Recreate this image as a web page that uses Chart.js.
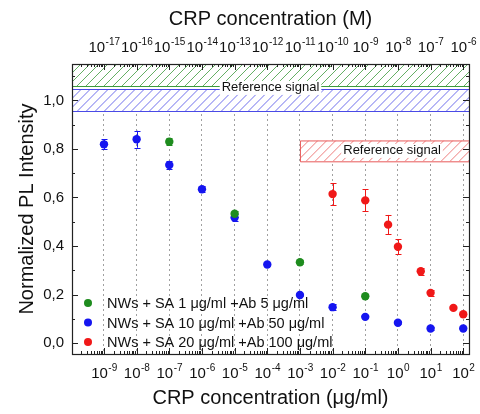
<!DOCTYPE html>
<html><head><meta charset="utf-8">
<script src="https://cdn.jsdelivr.net/npm/chart.js@4.4.1/dist/chart.umd.min.js"></script>
<style>html,body{margin:0;padding:0;background:#fff}#wrap{width:480px;height:414px;position:relative}</style>
</head><body><div id="wrap"><canvas id="c" width="480" height="414"></canvas></div>
<script>
// ---- data ----
const seriesNames = ['NWs + SA 1 μg/ml +Ab 5 μg/ml', 'NWs + SA 10 μg/ml +Ab 50 μg/ml', 'NWs + SA 20 μg/ml +Ab 100 μg/ml'];
const greenX = [1e-7, 1e-5, 1e-3, 1e-1];
const greenY = [0.83, 0.533, 0.333, 0.193];
const greenErr = [0.015, 0.012, 0.008, 0.008];
const blueX = [1e-9, 1e-8, 1e-7, 1e-6, 1e-5, 1e-4, 1e-3, 1e-2, 1e-1, 1, 10, 100];
const blueY = [0.819, 0.84, 0.734, 0.634, 0.517, 0.324, 0.198, 0.148, 0.108, 0.084, 0.06, 0.06];
const blueErr = [0.02, 0.035, 0.015, 0.012, 0.015, 0.006, 0.006, 0.012, 0.006, 0.005, 0.005, 0.005];
const redX = [1e-2, 1e-1, 0.5, 1, 5, 10, 50, 100];
const redY = [0.614, 0.588, 0.488, 0.397, 0.296, 0.207, 0.145, 0.119];
const redErr = [0.045, 0.045, 0.04, 0.03, 0.015, 0.012, 0.006, 0.006];
const bottomTicks = [1e-9, 1e-8, 1e-7, 1e-6, 1e-5, 1e-4, 1e-3, 1e-2, 1e-1, 1, 10, 100];
const topTicks = [1e-17, 1e-16, 1e-15, 1e-14, 1e-13, 1e-12, 1e-11, 1e-10, 1e-9, 1e-8, 1e-7, 1e-6];
const yTicks = [0, 0.2, 0.4, 0.6, 0.8, 1.0];
const refLabel = 'Reference signal';
// reference bands: x range (null = plot edge), y range (null = plot edge)
const bandX0 = [null, null, 1e-3];
const bandX1 = [null, null, null];
const bandY0 = [1.058, 0.955, 0.749];
const bandY1 = [null, 1.045, 0.835];

const xMin = 1.05e-10, xMax = 150, molarShift = 1e-8;
const yMin = -0.045, yMax = 1.15;

const colors = ['#1e8c1e', '#1515f0', '#f01818'];
const bandColors = ['#3c9a3c', '#4a4ae6', '#e85a5a'];
const FONT = "'Liberation Sans', Arial, sans-serif";
Chart.defaults.font.family = FONT;
Chart.defaults.color = '#111';

const xs = [greenX, blueX, redX], ys = [greenY, blueY, redY], es = [greenErr, blueErr, redErr];

function drawPow(ctx, cx, base, v) {
  const e = String(Math.round(Math.log10(v)));
  ctx.font = '15px ' + FONT;
  const w1 = ctx.measureText('10').width;
  ctx.font = '10px ' + FONT;
  const w2 = ctx.measureText(e).width;
  const x0 = cx - (w1 + w2) / 2;
  ctx.font = '15px ' + FONT;
  ctx.fillText('10', x0, base);
  ctx.font = '10px ' + FONT;
  ctx.fillText(e, x0 + w1 + 0.5, base - 7);
}

const decor = {
  id: 'decor',
  beforeDatasetsDraw(chart) {
    const {ctx, chartArea: a, scales: {x, y}} = chart;
    ctx.save();
    ctx.beginPath(); ctx.rect(a.left, a.top, a.right - a.left, a.bottom - a.top); ctx.clip();
    for (let i = 0; i < bandY0.length; i++) {
      const x0 = bandX0[i] == null ? a.left : x.getPixelForValue(bandX0[i]);
      const x1 = bandX1[i] == null ? a.right : x.getPixelForValue(bandX1[i]);
      const y0 = bandY1[i] == null ? a.top : y.getPixelForValue(bandY1[i]);
      const y1 = y.getPixelForValue(bandY0[i]);
      ctx.fillStyle = '#fff';
      ctx.fillRect(x0, y0, x1 - x0, y1 - y0);
      ctx.save();
      ctx.beginPath(); ctx.rect(x0, y0, x1 - x0, y1 - y0); ctx.clip();
      ctx.beginPath();
      ctx.strokeStyle = bandColors[i]; ctx.lineWidth = 0.8;
      const h = y1 - y0;
      for (let s = x0 - h; s < x1 + 2; s += 9) { ctx.moveTo(s, y1); ctx.lineTo(s + h, y0); }
      ctx.stroke();
      ctx.restore();
      ctx.strokeStyle = bandColors[i]; ctx.lineWidth = 1;
      ctx.beginPath();
      if (i === 2) { ctx.rect(x0 + 0.5, y0 + 0.5, x1 - x0, y1 - y0); }
      else {
        if (bandY1[i] != null) { ctx.moveTo(x0, Math.round(y0) + 0.5); ctx.lineTo(x1, Math.round(y0) + 0.5); }
        ctx.moveTo(x0, Math.round(y1) + 0.5); ctx.lineTo(x1, Math.round(y1) + 0.5);
      }
      ctx.stroke();
    }
    // labels
    ctx.font = '13px ' + FONT;
    ctx.textBaseline = 'middle'; ctx.textAlign = 'center';
    const w = ctx.measureText(refLabel).width;
    const ly1 = (y.getPixelForValue(bandY0[0]) + y.getPixelForValue(bandY1[1])) / 2;
    const lx1 = (a.left + a.right) / 2;
    ctx.fillStyle = '#fff'; ctx.fillRect(lx1 - w / 2 - 2, ly1 - 7, w + 4, 14);
    ctx.fillStyle = '#111'; ctx.fillText(refLabel, lx1, ly1);
    const ly2 = y.getPixelForValue((bandY0[2] + bandY1[2]) / 2);
    const lx2 = x.getPixelForValue(0.66);
    ctx.fillStyle = '#fff'; ctx.fillRect(lx2 - w / 2 - 2, ly2 - 7, w + 4, 14);
    ctx.fillStyle = '#111'; ctx.fillText(refLabel, lx2, ly2);
    ctx.restore();
    // error bars
    ctx.save();
    for (let k = 0; k < 3; k++) {
      ctx.strokeStyle = colors[k]; ctx.lineWidth = 1;
      ctx.beginPath();
      for (let i = 0; i < xs[k].length; i++) {
        const px = Math.round(x.getPixelForValue(xs[k][i])) + 0.5;
        const t = y.getPixelForValue(ys[k][i] + es[k][i]);
        const b = y.getPixelForValue(ys[k][i] - es[k][i]);
        ctx.moveTo(px, t); ctx.lineTo(px, b);
        ctx.moveTo(px - 3, Math.round(t) + 0.5); ctx.lineTo(px + 3, Math.round(t) + 0.5);
        ctx.moveTo(px - 3, Math.round(b) + 0.5); ctx.lineTo(px + 3, Math.round(b) + 0.5);
      }
      ctx.stroke();
    }
    ctx.restore();
  },
  afterDatasetsDraw(chart) {
    const {ctx, chartArea: a, scales: {x, x2, y}} = chart;
    ctx.save();
    // frame
    ctx.strokeStyle = '#222'; ctx.lineWidth = 1.2;
    ctx.strokeRect(Math.round(a.left) + 0.5, Math.round(a.top) + 0.5, Math.round(a.right - a.left), Math.round(a.bottom - a.top));
    // inward ticks
    ctx.beginPath(); ctx.lineWidth = 1;
    for (let e = -10; e <= 2; e++) {
      for (let m = 1; m <= 9; m++) {
        const v = m * Math.pow(10, e);
        if (v < xMin || v > xMax) continue;
        const px = Math.round(x.getPixelForValue(v)) + 0.5;
        const L = m === 1 ? 6 : 3;
        ctx.moveTo(px, a.bottom); ctx.lineTo(px, a.bottom - L);
        ctx.moveTo(px, a.top); ctx.lineTo(px, a.top + L);
      }
    }
    for (let i = 0; i <= 11; i++) {
      const v = i / 10;
      const py = Math.round(y.getPixelForValue(v)) + 0.5;
      const L = i % 2 === 0 ? 6 : 3;
      ctx.moveTo(a.left, py); ctx.lineTo(a.left + L, py);
      ctx.moveTo(a.right, py); ctx.lineTo(a.right - L, py);
    }
    ctx.stroke();
    // x tick labels with superscript exponents
    ctx.fillStyle = '#111'; ctx.textBaseline = 'alphabetic'; ctx.textAlign = 'left';
    bottomTicks.forEach(v => drawPow(ctx, x.getPixelForValue(v), a.bottom + 24, v));
    topTicks.forEach(v => drawPow(ctx, x2.getPixelForValue(v), a.top - 12, v));
    // legend
    ctx.font = '14.5px ' + FONT;
    ctx.textBaseline = 'middle'; ctx.textAlign = 'left';
    for (let k = 0; k < 3; k++) {
      const ly = a.bottom - 51 + k * 19.5;
      ctx.fillStyle = colors[k];
      ctx.beginPath(); ctx.arc(a.left + 16, ly, 4, 0, Math.PI * 2); ctx.fill();
      ctx.fillStyle = '#111';
      ctx.fillText(seriesNames[k], a.left + 35, ly + 1);
    }
    ctx.restore();
  }
};

const datasets = [0, 1, 2].map(k => ({
  label: seriesNames[k],
  data: xs[k].map((v, i) => ({x: v, y: ys[k][i]})),
  backgroundColor: colors[k],
  borderWidth: 0,
  pointRadius: 4.2,
  showLine: false
}));

new Chart(document.getElementById('c'), {
  type: 'scatter',
  data: {datasets},
  options: {
    responsive: false,
    animation: false,
    devicePixelRatio: 1,
    layout: {padding: {left: 0, right: 11, top: 0, bottom: 0}},
    plugins: {legend: {display: false}, tooltip: {enabled: false}},
    scales: {
      x: {
        type: 'logarithmic', position: 'bottom', min: xMin, max: xMax,
        afterBuildTicks: s => { s.ticks = bottomTicks.map(v => ({value: v})); },
        afterFit: s => { s.height = 60; },
        ticks: {display: false, autoSkip: false, maxRotation: 0, minRotation: 0},
        grid: {display: true, drawTicks: false, color: '#a0a0a0', lineWidth: 1},
        border: {display: false, dash: [2, 3]},
        title: {display: true, text: 'CRP concentration (μg/ml)', font: {size: 20}, padding: 4, color: '#111'}
      },
      x2: {
        type: 'logarithmic', position: 'top', min: xMin * molarShift, max: xMax * molarShift,
        afterBuildTicks: s => { s.ticks = topTicks.map(v => ({value: v})); },
        afterFit: s => { s.height = 64; },
        ticks: {display: false, autoSkip: false, maxRotation: 0, minRotation: 0},
        grid: {display: false, drawTicks: false},
        border: {display: false},
        title: {display: true, text: 'CRP concentration (M)', font: {size: 20}, padding: 7, color: '#111'}
      },
      y: {
        type: 'linear', min: yMin, max: yMax,
        afterBuildTicks: s => { s.ticks = yTicks.map(v => ({value: v})); },
        afterFit: s => { s.width = 72; },
        ticks: {padding: 8, font: {size: 15}, color: '#111', callback: v => v.toFixed(1).replace('.', ',')},
        grid: {display: false, drawTicks: false},
        border: {display: false},
        title: {display: true, text: 'Normalized PL Intensity', font: {size: 20}, padding: 15, color: '#111'}
      }
    }
  },
  plugins: [decor]
});
</script>
</body></html>
